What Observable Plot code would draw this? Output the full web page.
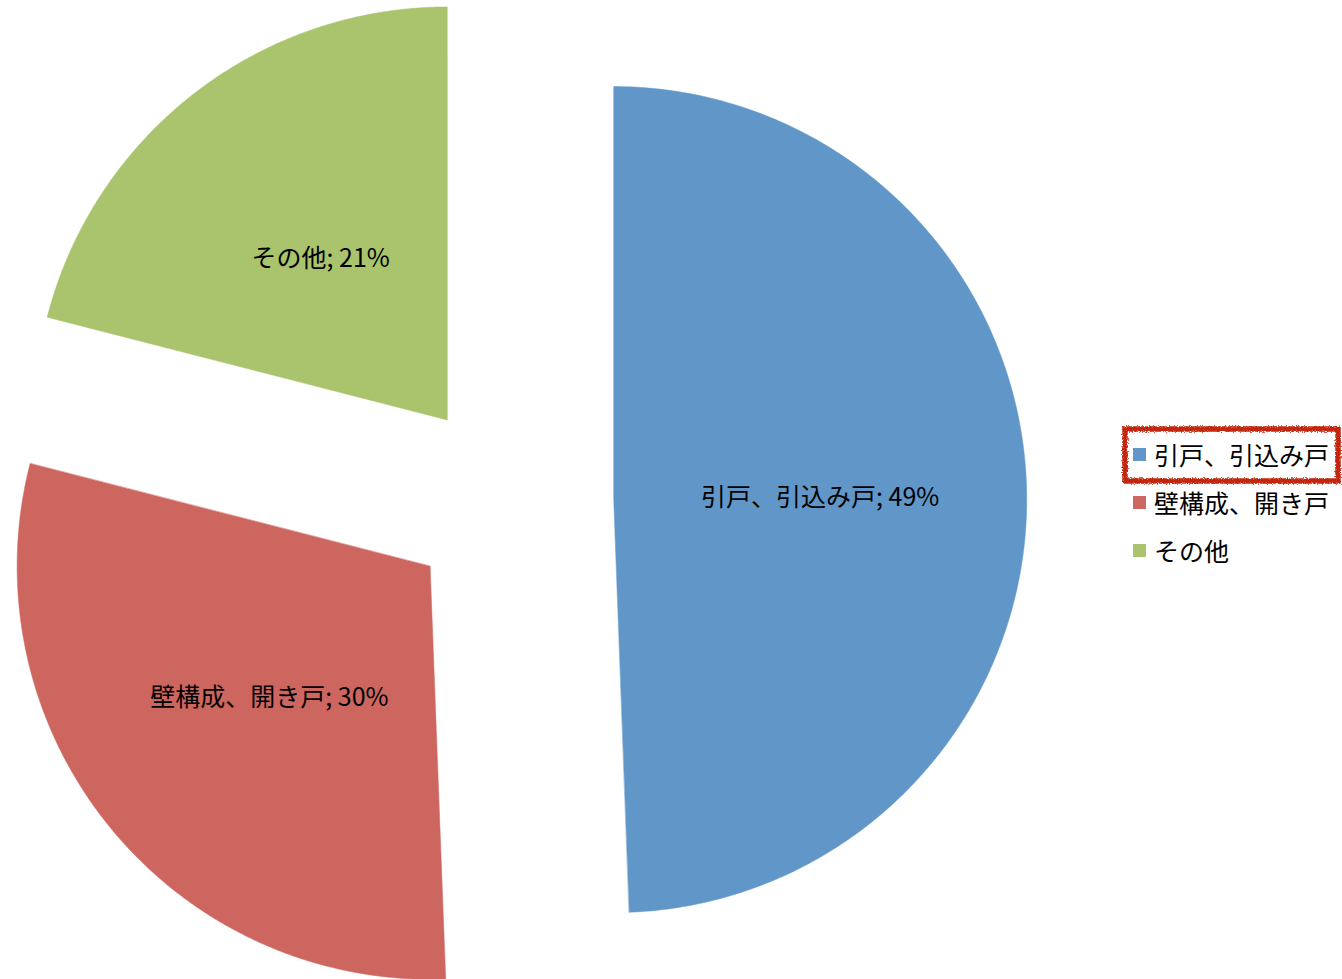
<!DOCTYPE html>
<html>
<head>
<meta charset="utf-8">
<script src="https://cdn.jsdelivr.net/npm/d3@7"></script>
<script src="https://cdn.jsdelivr.net/npm/@observablehq/plot@0.6"></script>
<style>
  html, body { margin: 0; padding: 0; background: #fff; overflow: hidden; }
  #wrap { position: relative; width: 1342px; height: 979px; font-family: "Noto Sans CJK JP", "Noto Sans", sans-serif; }
  #legend { position: absolute; left: 1133px; top: 430px; }
  .row { position: absolute; left: 0; height: 48px; display: flex; align-items: center; white-space: nowrap; font-size: 25px; color: #000; }
  .sw { width: 13px; height: 13px; margin-right: 8px; }
  #hl { position: absolute; left: 1116px; top: 420px; }
</style>
</head>
<body>
<div id="wrap"></div>
<script>
// ---- data ----
const categories = ["引戸、引込み戸", "壁構成、開き戸", "その他"];
const shares = [49.4, 29.6, 21.0];
const colors = ["#6096C8", "#CE6660", "#A9C46C"];
const highlighted = "引戸、引込み戸";

// ---- layout constants ----
const W = 1342, H = 979;
const CX = 510, CY = 501, R = 413;   // pie centre & radius in px
const EXPLODE = 0.25;                // explosion as fraction of radius
const LABEL_R = 0.5;

const arcs = d3.pie().sort(null).startAngle(0).endAngle(2 * Math.PI)(shares);

const poly = [];
const labels = [];
arcs.forEach((a, i) => {
  const name = categories[i];
  const mid = (a.startAngle + a.endAngle) / 2;
  const ox = EXPLODE * Math.sin(mid), oy = EXPLODE * Math.cos(mid);
  poly.push({name, x: ox, y: oy});
  const n = 240;
  for (let k = 0; k <= n; k++) {
    const t = a.startAngle + (a.endAngle - a.startAngle) * k / n;
    poly.push({name, x: ox + Math.sin(t), y: oy + Math.cos(t)});
  }
  labels.push({
    name,
    x: ox + LABEL_R * Math.sin(mid),
    y: oy + LABEL_R * Math.cos(mid),
    text: `${name}; ${Math.round(a.value)}%`
  });
});

const chart = Plot.plot({
  width: W,
  height: H,
  margin: 0,
  style: {background: "white", fontFamily: "'Noto Sans CJK JP', 'Noto Sans', sans-serif", overflow: "hidden"},
  x: {domain: [(0 - CX) / R, (W - CX) / R], axis: null},
  y: {domain: [(CY - H) / R, CY / R], axis: null},
  color: {domain: categories, range: colors},
  marks: [
    Plot.line(poly, {x: "x", y: "y", z: "name", fill: "name", stroke: "name", strokeWidth: 0.5, curve: "linear-closed"}),
    Plot.text(labels, {x: "x", y: "y", text: "text", fontSize: 25, fill: "#000", dy: 2})
  ]
});

const wrap = document.getElementById("wrap");
wrap.appendChild(chart);

// legend
const legend = document.createElement("div");
legend.id = "legend";
categories.forEach((c, i) => {
  const row = document.createElement("div");
  row.className = "row";
  row.style.top = (i * 48) + "px";
  const sw = document.createElement("span");
  sw.className = "sw";
  sw.style.background = colors[i];
  const tx = document.createElement("span");
  tx.textContent = c;
  row.appendChild(sw);
  row.appendChild(tx);
  legend.appendChild(row);
});
wrap.appendChild(legend);

// hand-drawn highlight around the first legend entry
const hi = categories.indexOf(highlighted);
const ns = "http://www.w3.org/2000/svg";
const hl = document.createElementNS(ns, "svg");
hl.setAttribute("id", "hl");
hl.setAttribute("width", 226);
hl.setAttribute("height", 70);
hl.style.top = (420 + hi * 48) + "px";
hl.innerHTML = `
  <defs><filter id="rough" x="-5%" y="-20%" width="110%" height="140%">
    <feTurbulence type="fractalNoise" baseFrequency="0.8" numOctaves="2" seed="3" result="n"/>
    <feDisplacementMap in="SourceGraphic" in2="n" scale="4"/>
  </filter></defs>
  <rect x="9" y="9" width="213" height="52" fill="none" stroke="#C4280C" stroke-width="5.5" filter="url(#rough)"/>`;
wrap.appendChild(hl);
</script>
</body>
</html>
